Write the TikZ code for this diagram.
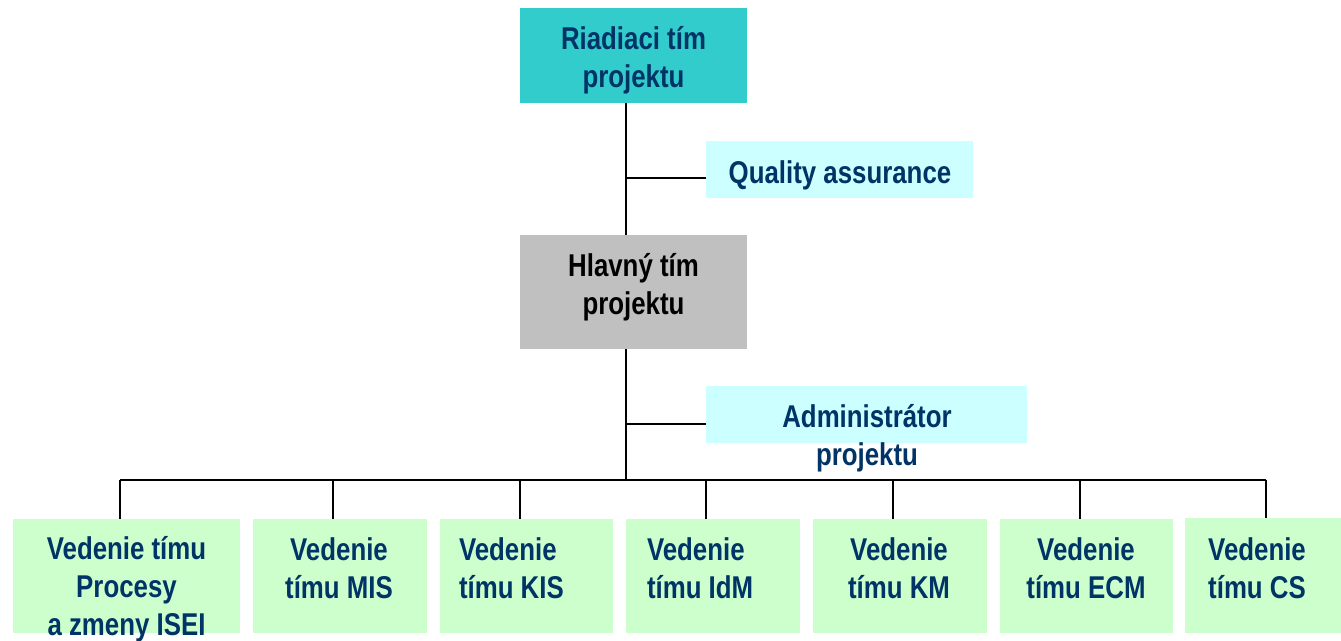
\documentclass[tikz,border=0pt]{standalone}
\usepackage{fontspec}
\newfontfamily\nar{Liberation Sans}[FakeStretch=0.82]
\definecolor{teal1}{HTML}{33CCCC}
\definecolor{cyan1}{HTML}{CCFFFF}
\definecolor{gray1}{HTML}{C0C0C0}
\definecolor{green1}{HTML}{CCFFCC}
\definecolor{navy1}{HTML}{003366}
\tikzset{
  boxnode/.style={draw=none, inner sep=0pt, outer sep=0pt, anchor=north west},
  lbl/.style={inner sep=0pt, outer sep=0pt, text=navy1, align=center, anchor=base,
    font=\nar\bfseries\fontsize{31.5}{38}\selectfont},
  lbll/.style={lbl, align=left, anchor=base west},
  conn/.style={line width=1.5pt, black}
}
\begin{document}
\begin{tikzpicture}[x=1pt,y=-1pt]
\useasboundingbox (0,0) rectangle (1341,640);
% boxes
\node[boxnode, fill=teal1, minimum width=227pt, minimum height=95pt] (top) at (520,8) {};
\node[boxnode, fill=cyan1, minimum width=267pt, minimum height=57pt] (qa) at (706,141) {};
\node[boxnode, fill=gray1, minimum width=227pt, minimum height=114pt] (hl) at (520,235) {};
\node[boxnode, fill=cyan1, minimum width=321pt, minimum height=57pt] (adm) at (706,386) {};
\node[boxnode, fill=green1, minimum width=227pt, minimum height=114pt] (b1) at (13,519) {};
\node[boxnode, fill=green1, minimum width=174pt, minimum height=114pt] (b2) at (253,519) {};
\node[boxnode, fill=green1, minimum width=173pt, minimum height=114pt] (b3) at (440,519) {};
\node[boxnode, fill=green1, minimum width=174pt, minimum height=114pt] (b4) at (626,519) {};
\node[boxnode, fill=green1, minimum width=174pt, minimum height=114pt] (b5) at (813,519) {};
\node[boxnode, fill=green1, minimum width=173pt, minimum height=114pt] (b6) at (1000,519) {};
\node[boxnode, fill=green1, minimum width=156pt, minimum height=115pt] (b7) at (1185,518) {};
% connectors
\coordinate (sp) at (626,0);
\coordinate (qaj) at (626,178);
\coordinate (admj) at (626,424);
\coordinate (bus) at (626,480);
\coordinate (d1) at (120,480);
\coordinate (d2) at (333,480);
\coordinate (d3) at (520,480);
\coordinate (d4) at (706,480);
\coordinate (d5) at (893,480);
\coordinate (d6) at (1080,480);
\coordinate (d7) at (1266,480);
\draw[conn] (top.south -| sp) -- (hl.north -| sp);
\draw[conn] (hl.south -| sp) -- (bus);
\draw[conn] (qaj) -- (qaj -| qa.west);
\draw[conn] (admj) -- (admj -| adm.west);
\draw[conn] (d1) -- (d7);
\foreach \i in {1,...,7} {
  \draw[conn] (d\i) -- (d\i |- b\i.north);
}
% labels (anchor = baseline of last line)
\node[lbl] (ttop) at (633.5,87) {Riadiaci tím\\projektu};
\node[lbl] (tqa) at (840,183) {Quality assurance};
\node[lbl, text=black] (thl) at (633.5,314) {Hlavný tím\\projektu};
\node[lbl] (tadm) at (867,465) {Administrátor\\projektu};
\node[lbl] (tb1) at (126.5,635) {Vedenie tímu\\Procesy\\a zmeny ISEI};
\node[lbl] (tb2) at (339,598) {Vedenie\\tímu MIS};
\node[lbll] (tb3) at (459,598) {Vedenie\\tímu KIS};
\node[lbll] (tb4) at (647,598) {Vedenie\\tímu IdM};
\node[lbl] (tb5) at (899,598) {Vedenie\\tímu KM};
\node[lbl] (tb6) at (1086,598) {Vedenie\\tímu ECM};
\node[lbl] (tb7) at (1257,598) {Vedenie\\tímu CS};
\end{tikzpicture}
\end{document}
